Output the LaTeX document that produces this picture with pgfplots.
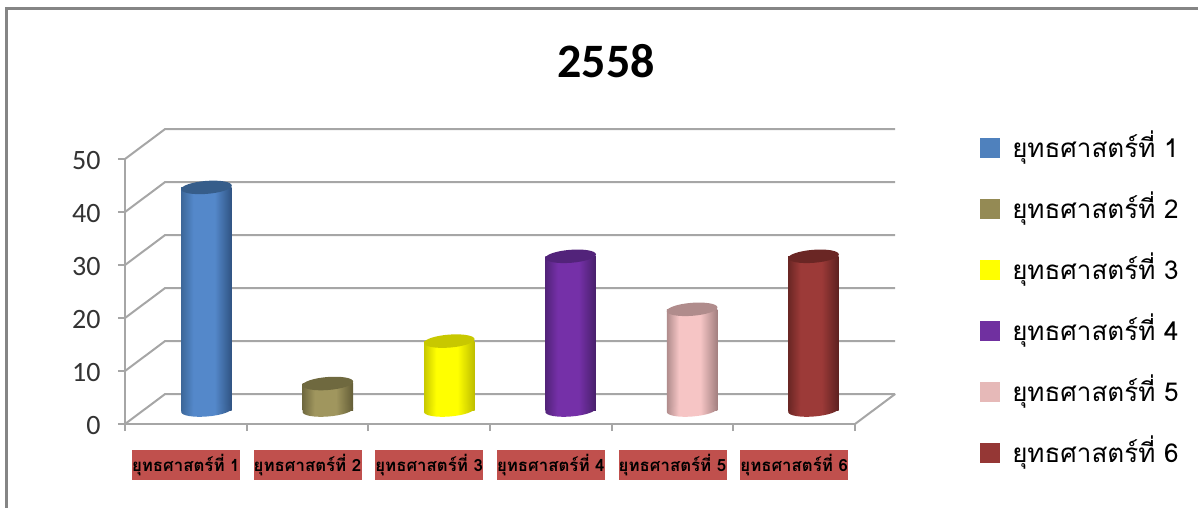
\documentclass[border=0pt]{standalone}
\usepackage{fontspec}
\usepackage{pgfplots}
\pgfplotsset{compat=1.18}
\setmainfont{Carlito}
\newfontfamily\thaifont[Script=Thai]{Loma}

\definecolor{cblue}{HTML}{4F81BD}
\definecolor{colive}{HTML}{948A54}
\definecolor{cyellow}{HTML}{FFFF00}
\definecolor{cpurple}{HTML}{7030A0}
\definecolor{cpink}{HTML}{E6B9B8}
\definecolor{cred}{HTML}{953735}
\definecolor{wallgray}{HTML}{A6A6A6}
\definecolor{labelred}{HTML}{C0504D}

% side shading of the cylinders: dark edge, flat middle, dark edge
\newcommand{\cylshade}[4]{%
  \pgfdeclarehorizontalshading{#1}{100bp}{%
    color(0bp)=(#2); color(25bp)=(#2); color(37bp)=(#3);
    color(58bp)=(#3); color(75bp)=(#4); color(100bp)=(#4)}}
\definecolor{a1}{HTML}{3C6799}\definecolor{a2}{HTML}{5488CA}\definecolor{a3}{HTML}{2F5382}
\definecolor{b1}{HTML}{6F693F}\definecolor{b2}{HTML}{A0965E}\definecolor{b3}{HTML}{625C36}
\definecolor{c1}{HTML}{C8C800}\definecolor{c2}{HTML}{FFFF00}\definecolor{c3}{HTML}{BDBD00}
\definecolor{d1}{HTML}{52237A}\definecolor{d2}{HTML}{7530A8}\definecolor{d3}{HTML}{47206A}
\definecolor{e1}{HTML}{B08C8C}\definecolor{e2}{HTML}{F6C5C5}\definecolor{e3}{HTML}{A38080}
\definecolor{f1}{HTML}{6A2624}\definecolor{f2}{HTML}{9C3A38}\definecolor{f3}{HTML}{5C2120}
\cylshade{sa}{a1}{a2}{a3}
\cylshade{sb}{b1}{b2}{b3}
\cylshade{sc}{c1}{c2}{c3}
\cylshade{sd}{d1}{d2}{d3}
\cylshade{se}{e1}{e2}{e3}
\cylshade{sf}{f1}{f2}{f3}

\tikzset{cylend/.style={}}
\pgfdeclareplotmark{cylend}{%
  \pgftransformrotate{4.5}%
  \path[cylend,draw=none] (0pt,0pt) ellipse [x radius=25.4pt, y radius=6.5pt];}

% one cylinder: position, value, side shading, top colour
\newcommand{\cyl}[4]{%
  \addplot[forget plot, only marks, mark=cylend, mark options={draw=none,cylend/.style={shading=#3}}] coordinates {(#1,0)};
  \addplot[forget plot, ybar, bar width=50.5pt, draw=none, shading=#3] coordinates {(#1,#2)};
  \addplot[forget plot, only marks, mark=cylend, mark options={draw=none,cylend/.style={fill=#4}}] coordinates {(#1,#2)};
}
\newcommand{\wall}[1]{%
  \addplot[wallgray, line width=2pt] coordinates {(0,#1) (0.33,#1+5.66) (6.33,#1+5.66)};
}
\newcommand{\cat}[1]{ยุทธศาสตร์ที่ #1}

\begin{document}
\begin{tikzpicture}[x=1pt,y=1pt]
\path[use as bounding box] (0,0) rectangle (1198,-508);
\draw[color=black!48, line width=2.6pt] (6.5,-508) -- (6.5,-8.5) -- (1198,-8.5);

\begin{axis}[
    at={(125pt,-424pt)}, anchor=south west,
    scale only axis, width=730pt, height=265pt,
    xmin=0, xmax=6, ymin=0, ymax=50,
    clip=false,
    axis lines*=left,
    axis line style={wallgray, line width=2pt},
    tick style={wallgray, line width=2pt},
    tick align=outside,
    tickwidth=7pt,
    xtick={0,1,2,3,4,5,6}, xticklabels={},
    ytick={0,10,20,30,40,50},
    extra x ticks={0.5,1.5,2.5,3.5,4.5,5.5},
    extra x tick labels={\cat{1},\cat{2},\cat{3},\cat{4},\cat{5},\cat{6}},
    extra x tick style={
      tickwidth=0pt,
      xticklabel style={
        fill=labelred, text=black, inner sep=0pt, anchor=north, yshift=-26pt,
        minimum width=108pt, minimum height=30pt,
        font=\thaifont\bfseries\fontsize{16.8}{17}\selectfont}},
    /pgf/number format/assume math mode=true,
    yticklabel style={text=black!80, font=\fontsize{28}{29}\selectfont, xshift=-14pt, yshift=-2pt},
    title={2558},
    title style={at={(0.659,1.374)}, anchor=center, yshift=-7pt, font=\bfseries\fontsize{48}{50}\selectfont},
]
\wall{0}
\wall{10}
\wall{20}
\wall{30}
\wall{40}
\wall{50}
\addplot[wallgray, line width=2pt] coordinates {(6.33,5.66) (6,0)};
\end{axis}

\begin{axis}[
    at={(125pt,-410pt)}, anchor=south west,
    scale only axis, width=730pt, height=265pt,
    xmin=0.329, xmax=6.342, ymin=0, ymax=50,
    clip=false,
    axis lines=none,
    legend style={
      draw=none, fill=none, at={(1.171,1.063)}, anchor=north west,
      /tikz/row sep=28.8pt, inner sep=0pt,
      font=\thaifont\fontsize{26}{26}\selectfont},
    legend cell align=left,
    legend image code/.code={\fill[#1,draw=none] (0pt,-13pt) rectangle (20pt,7pt); \path (30pt,0pt);},
]
\cyl{1}{42}{sa}{a1!90!black}
\cyl{2}{5}{sb}{b1}
\cyl{3}{13}{sc}{c1}
\cyl{4}{29}{sd}{d1}
\cyl{5}{19}{se}{e1}
\cyl{6}{29}{sf}{f1}
\addlegendimage{fill=cblue}\addlegendentry{\cat{1}}
\addlegendimage{fill=colive}\addlegendentry{\cat{2}}
\addlegendimage{fill=cyellow}\addlegendentry{\cat{3}}
\addlegendimage{fill=cpurple}\addlegendentry{\cat{4}}
\addlegendimage{fill=cpink}\addlegendentry{\cat{5}}
\addlegendimage{fill=cred}\addlegendentry{\cat{6}}
\end{axis}
\end{tikzpicture}
\end{document}
